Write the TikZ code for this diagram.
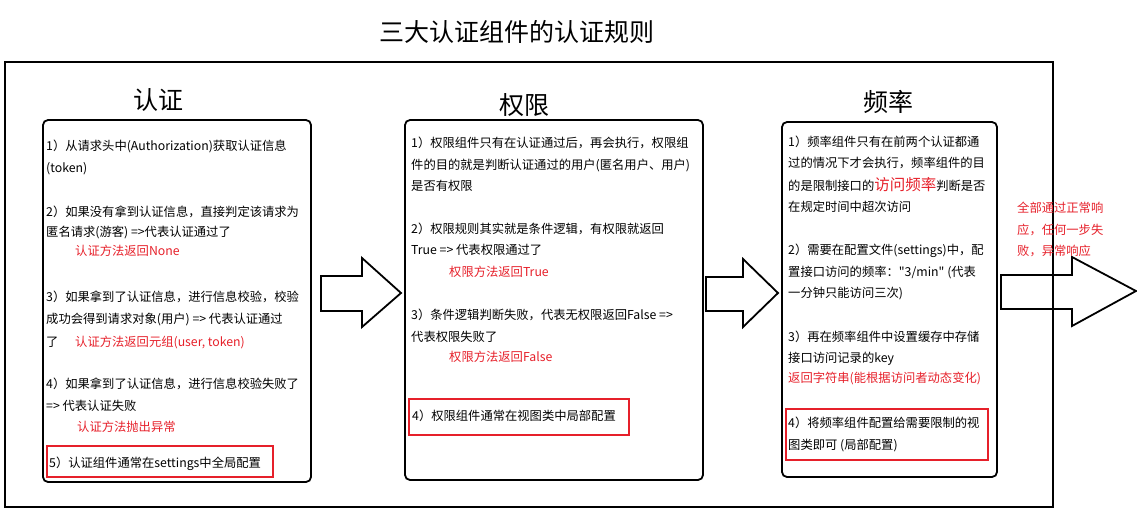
\documentclass[tikz,border=0pt]{standalone}
\usepackage{fontspec}
\setmainfont{Noto Sans CJK SC}
\newfontfamily\qfnt{Noto Sans CJK SC}
\definecolor{hlred}{RGB}{230,32,42}
\newcommand\bfnt{\fontsize{12.3}{15}\selectfont}
\newcommand\hfnt{\fontsize{25}{30}\selectfont}
\tikzset{
  outerframe/.style={draw, line width=2pt},
  panel/.style={draw, rectangle, line width=1.8pt, rounded corners=5pt, inner sep=0pt},
  hlbox/.style={draw=hlred, rectangle, line width=1.6pt, inner sep=0pt},
  txt/.style={anchor=west, inner sep=0pt, font=\bfnt, text height=11pt, text depth=1.5pt},
  redtxt/.style={txt, text=hlred},
  heading/.style={inner sep=0pt, font=\hfnt},
  blockarrow/.style={draw, line width=1.8pt, fill=white, line join=miter},
}
\begin{document}
\begin{tikzpicture}[x=1pt,y=-1pt]
\useasboundingbox (0,0) rectangle (1137,512);

% title
\node[heading] (title) at (517,32) {三大认证组件的认证规则};

% block arrow 3 (under the frame)
\draw[blockarrow] (1001,275) -- (1072,275) -- (1072,257) -- (1136,291) -- (1072,326) -- (1072,309) -- (1001,309) -- cycle;

% outer frame
\draw[outerframe] (5,62) rectangle (1053,507);

% panels
\node[panel, minimum width=268pt, minimum height=362pt] (p1) at (177,301) {};
\node[panel, minimum width=298pt, minimum height=360pt] (p2) at (554,300) {};
\node[panel, minimum width=215pt, minimum height=355pt] (p3) at (889.5,299.5) {};

% highlight boxes
\node[hlbox, minimum width=226pt, minimum height=31pt] (h1) at (160,461.5) {};
\node[hlbox, minimum width=220pt, minimum height=36pt] (h2) at (519,417) {};
\node[hlbox, minimum width=202pt, minimum height=51pt] (h3) at (887,434.5) {};

% block arrows 1 and 2
\draw[blockarrow] (321,276) -- (362,276) -- (362,258) -- (401,293) -- (362,327) -- (362,311) -- (321,311) -- cycle;
\draw[blockarrow] (706,277) -- (743,277) -- (743,259) -- (778,293) -- (743,327) -- (743,311) -- (706,311) -- cycle;

% headings
\node[heading] (t1) at (158,100) {认证};
\node[heading] (t2) at (524,105) {权限};
\node[heading] (t3) at (888,102) {频率};

% panel 1 text
\node[txt] (a1) at (46,146) {1）从请求头中(Authorization)获取认证信息};
\node[txt] (a2) at (46,168) {(token)};
\node[txt] (a3) at (46,212) {2）如果没有拿到认证信息，直接判定该请求为};
\node[txt] (a4) at (46,232) {匿名请求(游客) =>代表认证通过了};
\node[redtxt] (a5) at (75,251) {认证方法返回None};
\node[txt] (a6) at (46,297) {3）如果拿到了认证信息，进行信息校验，校验};
\node[txt] (a7) at (46,319) {成功会得到请求对象(用户) => 代表认证通过};
\node[txt] (a8) at (46,342) {了};
\node[redtxt] (a9) at (75,342) {认证方法返回元组(user, token)};
\node[txt] (a10) at (46,384) {4）如果拿到了认证信息，进行信息校验失败了};
\node[txt] (a11) at (46,406) {=> 代表认证失败};
\node[redtxt] (a12) at (77,427) {认证方法抛出异常};
\node[txt] (a13) at (49,463) {5）认证组件通常在settings中全局配置};

% panel 2 text
\node[txt] (b1) at (411,143) {1）权限组件只有在认证通过后，再会执行，权限组};
\node[txt] (b2) at (411,165) {件的目的就是判断认证通过的用户(匿名用户、用户)};
\node[txt] (b3) at (411,186) {是否有权限};
\node[txt] (b4) at (411,229) {2）权限规则其实就是条件逻辑，有权限就返回};
\node[txt] (b5) at (411,250) {True => 代表权限通过了};
\node[redtxt] (b6) at (449,272) {权限方法返回True};
\node[txt] (b7) at (411,315) {3）条件逻辑判断失败，代表无权限返回False =>};
\node[txt] (b8) at (411,337) {代表权限失败了};
\node[redtxt] (b9) at (449,357) {权限方法返回False};
\node[txt] (b10) at (412,416) {4）权限组件通常在视图类中局部配置};

% panel 3 text
\node[txt] (c1) at (788,142) {1）频率组件只有在前两个认证都通};
\node[txt] (c2) at (788,163) {过的情况下才会执行，频率组件的目};
\node[txt] (c3) at (788,186) {的是限制接口的{\color{hlred}\fontsize{15.5}{16}\selectfont 访问频率}判断是否};
\node[txt] (c4) at (788,207) {在规定时间中超次访问};
\node[txt] (c5) at (788,250) {2）需要在配置文件(settings)中，配};
\node[txt] (c6) at (788,272) {置接口访问的频率：{\qfnt"3/min"} (代表};
\node[txt] (c7) at (788,293) {一分钟只能访问三次)};
\node[txt] (c8) at (788,337) {3）再在频率组件中设置缓存中存储};
\node[txt] (c9) at (788,358) {接口访问记录的key};
\node[redtxt] (c10) at (788,378) {返回字符串(能根据访问者动态变化)};
\node[txt] (c11) at (788,423) {4）将频率组件配置给需要限制的视};
\node[txt] (c12) at (788,445) {图类即可 (局部配置)};

% side note
\node[redtxt] (n1) at (1017,208) {全部通过正常响};
\node[redtxt] (n2) at (1017,230) {应，任何一步失};
\node[redtxt] (n3) at (1017,251) {败，异常响应};
\end{tikzpicture}
\end{document}
